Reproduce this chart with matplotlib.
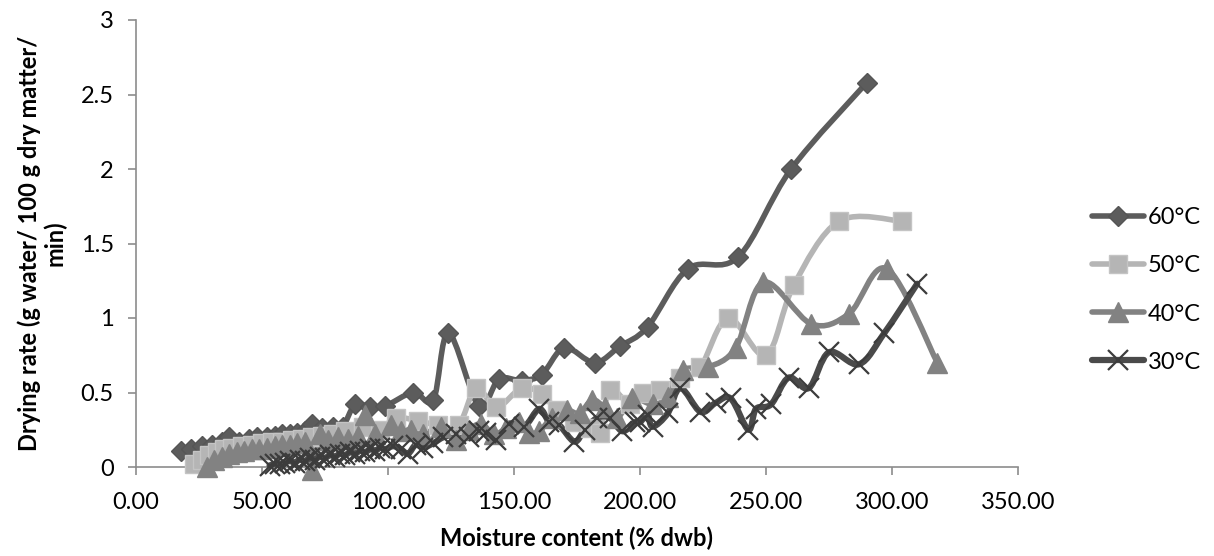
import numpy as np
from matplotlib import pyplot as plt
from matplotlib.path import Path
from matplotlib.patches import PathPatch
from matplotlib.lines import Line2D
from matplotlib.ticker import FuncFormatter

plt.rcParams['font.family'] = ['Lato', 'DejaVu Sans']

# moisture content (% dwb) and drying rate (g water/100 g dry matter/min)
x60 = [18, 22, 26, 30, 34, 37, 41, 45, 48, 52, 55, 58, 61, 64, 67, 70, 74, 78, 82, 87, 93, 99,
       110, 118, 124, 136, 144, 153, 161, 170, 182, 192, 203, 219, 239, 260, 290]
y60 = [0.11, 0.12, 0.14, 0.15, 0.17, 0.20, 0.17, 0.19, 0.20, 0.20, 0.21, 0.22, 0.22, 0.23, 0.24, 0.29,
       0.26, 0.27, 0.27, 0.42, 0.40, 0.41, 0.50, 0.45, 0.90, 0.41, 0.59, 0.58, 0.62, 0.80, 0.70, 0.81,
       0.94, 1.33, 1.41, 2.00, 2.58]

x50 = [23, 26, 29, 32, 35, 38, 42, 46, 50, 54, 58, 62, 66, 70, 74, 78, 83, 90, 97, 103, 112, 120,
       128, 135, 143, 153, 161, 167, 174, 180, 184, 188, 196, 201, 208, 216, 224, 235, 250, 261, 279, 304]
y50 = [0.02, 0.05, 0.08, 0.10, 0.12, 0.13, 0.14, 0.15, 0.16, 0.17, 0.17, 0.18, 0.19, 0.20, 0.21, 0.22,
       0.24, 0.27, 0.25, 0.33, 0.31, 0.28, 0.28, 0.53, 0.40, 0.53, 0.49, 0.38, 0.30, 0.26, 0.23, 0.52,
       0.42, 0.50, 0.52, 0.60, 0.67, 1.00, 0.75, 1.22, 1.65, 1.65]

x40 = [28, 31, 34, 37, 40, 43, 46, 49, 52, 55, 58, 61, 64, 67, 70, 73, 76, 80, 84, 88, 91, 95, 101,
       105, 109, 114, 121, 127, 132, 137, 142, 147, 152, 156, 160, 165, 171, 176, 181, 186, 191, 197,
       205, 211, 217, 227, 238, 249, 268, 283, 298, 318]
y40 = [0.00, 0.05, 0.07, 0.09, 0.10, 0.11, 0.12, 0.12, 0.13, 0.14, 0.15, 0.15, 0.16, 0.17, -0.02, 0.22,
       0.18, 0.20, 0.19, 0.21, 0.35, 0.22, 0.28, 0.24, 0.25, 0.22, 0.27, 0.18, 0.25, 0.29, 0.22, 0.26,
       0.30, 0.23, 0.24, 0.33, 0.38, 0.36, 0.45, 0.40, 0.33, 0.46, 0.42, 0.47, 0.65, 0.67, 0.80, 1.24,
       0.96, 1.03, 1.33, 0.70]

x30 = [53, 55, 57, 59, 61, 63, 65, 67, 69, 71, 73, 75, 77, 79, 81, 83, 85, 87, 89, 91, 93, 95, 97, 99,
       102, 105, 108, 111, 114, 118, 122, 127, 132, 136, 139, 143, 148, 154, 160, 164, 168, 174, 178,
       183, 188, 193, 198, 200, 203, 205, 211, 216, 224, 230, 236, 243, 246, 252, 259, 267, 275, 287,
       297, 310]
y30 = [0.01, 0.02, 0.02, 0.03, 0.04, 0.03, 0.05, 0.04, 0.06, 0.05, 0.07, 0.06, 0.08, 0.07, 0.09, 0.08,
       0.10, 0.09, 0.11, 0.10, 0.12, 0.11, 0.13, 0.12, 0.14, 0.12, 0.09, 0.15, 0.13, 0.16, 0.20, 0.22,
       0.20, 0.24, 0.23, 0.18, 0.29, 0.27, 0.39, 0.30, 0.28, 0.17, 0.25, 0.33, 0.33, 0.24, 0.30, 0.30,
       0.35, 0.27, 0.36, 0.53, 0.37, 0.43, 0.46, 0.25, 0.39, 0.42, 0.60, 0.53, 0.77, 0.69, 0.90, 1.23]

series = [
    ('60°C', x60, y60, '#5c5c5c', 'D', 10, '#555555', 4),
    ('50°C', x50, y50, '#b5b5b5', 's', 13, '#c4c4c4', 4),
    ('40°C', x40, y40, '#828282', '^', 14, '#828282', 4),
    ('30°C', x30, y30, '#4a4a4a', 'x', 14, '#3c3c3c', 4.5),
]


def smooth_path(xs, ys):
    # excel-like smoothed line: catmull-rom segments as cubic beziers
    p = np.column_stack([xs, ys]).astype(float)
    verts = [p[0]]
    codes = [Path.MOVETO]
    n = len(p)
    for i in range(n - 1):
        p0 = p[i - 1] if i > 0 else p[i]
        p3 = p[i + 2] if i + 2 < n else p[i + 1]
        c1 = p[i] + (p[i + 1] - p0) / 6.0
        c2 = p[i + 1] - (p3 - p[i]) / 6.0
        verts += [c1, c2, p[i + 1]]
        codes += [Path.CURVE4] * 3
    return Path(verts, codes)


fig = plt.figure(figsize=(12.14, 5.56), dpi=100)
ax = fig.add_axes([136 / 1214, 1 - 467 / 556, 882 / 1214, 447 / 556])

handles = []
for lab, xs, ys, col, mk, ms, mcol, lw in series:
    patch = PathPatch(smooth_path(xs, ys), facecolor='none', edgecolor=col, lw=lw,
                      capstyle='round', joinstyle='round', clip_on=False)
    ax.add_patch(patch)
    if mk == 'x':
        ax.plot(xs, ys, ls='none', marker=mk, ms=ms, mew=1.6, color=mcol, clip_on=False)
        h = Line2D([], [], color=col, lw=lw, marker=mk, ms=ms, mew=1.6, mec=mcol,
                   solid_capstyle='round')
    else:
        ax.plot(xs, ys, ls='none', marker=mk, ms=ms, mfc=col, mec=mcol, mew=1, clip_on=False)
        h = Line2D([], [], color=col, lw=lw, marker=mk, ms=ms, mfc=col, mec=mcol, mew=1,
                   solid_capstyle='round')
    handles.append(h)

ax.set_xlim(0, 350)
ax.set_ylim(0, 3)
ax.set_xticks(np.arange(0, 351, 50))
ax.set_yticks([0, 0.5, 1, 1.5, 2, 2.5, 3])
ax.xaxis.set_major_formatter(FuncFormatter(lambda v, p: f'{v:.2f}'))
ax.yaxis.set_major_formatter(FuncFormatter(lambda v, p: f'{v:g}'))

for s in ['top', 'right']:
    ax.spines[s].set_visible(False)
for s in ['left', 'bottom']:
    ax.spines[s].set_color('#8c8c8c')
    ax.spines[s].set_linewidth(1.2)
    ax.spines[s].set_zorder(0.5)
ax.tick_params(axis='both', colors='#8c8c8c', labelcolor='black', labelsize=17,
               length=6, width=1.2, direction='out')
ax.tick_params(axis='x', pad=12)
ax.tick_params(axis='y', pad=10)

ax.set_xlabel('Moisture content (% dwb)', fontsize=17, fontweight='bold', labelpad=10)
ax.set_ylabel('Drying rate (g water/ 100 g dry matter/\nmin)', fontsize=17,
              fontweight='bold', labelpad=10, linespacing=1.1)

fig.legend(handles=handles, labels=[s[0] for s in series], loc='center left',
           bbox_to_anchor=(1092 / 1214, 1 - 290 / 556), frameon=False, fontsize=17,
           handlelength=2.2, handletextpad=0.15, labelspacing=1.15, borderpad=0,
           borderaxespad=0)

plt.savefig('out.png', dpi=100)
